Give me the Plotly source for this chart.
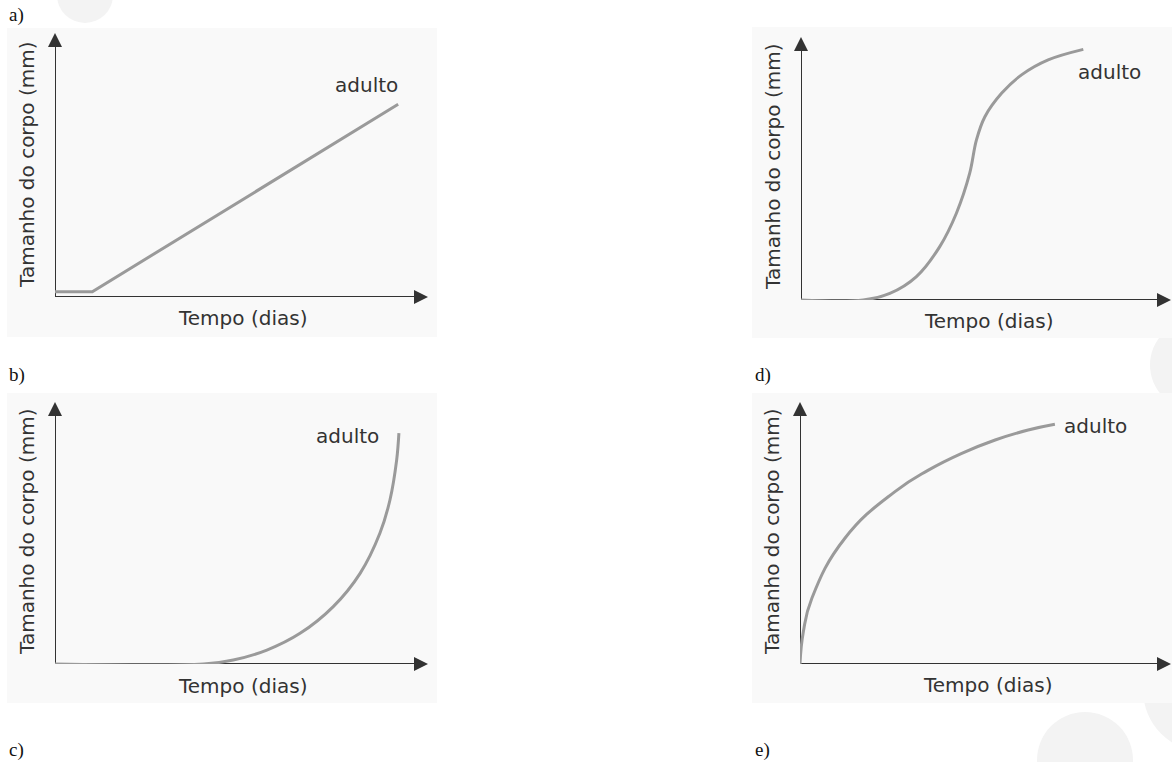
import plotly.graph_objects as go

W, H = 1172, 762

# curves; x = tempo, y = tamanho, both as % of axis length
a_x = [0, 10, 92]
a_y = [2, 2, 73]
b_x = [0, 16.8, 24.0, 31.2, 37.5, 42.0, 45.6, 47.4, 49.7, 54.2, 59.6, 66.8, 76.3]
b_y = [0, 0, 2.5, 8.9, 20.3, 33.0, 48.2, 60.8, 69.7, 78.6, 85.6, 91.3, 95.3]
c_x = [0, 39.8, 47.8, 56.8, 65.7, 74.6, 81.8, 87.1, 89.8, 91.6, 92.2]
c_y = [0, 0, 1.5, 5.3, 11.7, 21.9, 34.6, 49.9, 62.6, 77.9, 88.1]
d_x = [0, 0.9, 3.2, 12.1, 25.6, 34.6, 43.6, 52.6, 61.5, 68.7]
d_y = [0, 12.3, 25.1, 48.0, 65.8, 74.0, 80.4, 85.5, 89.3, 91.5]

end_label = "adulto"
x_title = "Tempo (dias)"
y_title = "Tamanho do corpo (mm)"
panel_letters = ["a)", "b)", "c)", "d)", "e)"]

SANS = "DejaVu Sans"
SERIF = "Liberation Serif"
TXT = "#333333"
CURVE = "#9a9a9a"
BG = "#f9f9f9"


def px(x):
    return x / W


def py(y):
    return 1 - y / H


# layout of each graph in pixels: y-axis x, arrow tip x, arrow top y, x-axis y,
# background box, label spot, title spots
panels = [
    dict(x=a_x, y=a_y, ax0=55, ax1=428, top=33, bot=297, bg=(7, 28, 437, 337),
         lab=(83.5, 80.3), xt=(242, 318), yt=(27, 165), shape="linear", smooth=1.0),
    dict(x=b_x, y=b_y, ax0=801, ax1=1171, top=37, bot=300, bg=(752, 27, 1172, 338),
         lab=(83.4, 86.7), xt=(988, 321), yt=(773, 167), shape="spline", smooth=1.0),
    dict(x=c_x, y=c_y, ax0=55, ax1=428, top=402, bot=664, bg=(7, 393, 437, 703),
         lab=(78.3, 87.0), xt=(242, 686), yt=(27, 532), shape="spline", smooth=1.0),
    dict(x=d_x, y=d_y, ax0=800, ax1=1171, top=402, bot=664, bg=(752, 393, 1172, 703),
         lab=(79.7, 90.8), xt=(987, 685), yt=(772, 532), shape="spline", smooth=1.3),
]

fig = go.Figure()
shapes = []
annotations = []

# faint watermark circles behind everything
for cx, cy, r in [(85, -5, 28), (1195, 365, 45), (1085, 760, 48), (1205, 690, 62)]:
    shapes.append(dict(type="circle", xref="paper", yref="paper",
                       x0=px(cx - r), x1=px(cx + r), y0=py(cy + r), y1=py(cy - r),
                       fillcolor="#f3f3f3", line=dict(width=0), layer="below"))

for i, p in enumerate(panels):
    n = "" if i == 0 else str(i + 1)
    xa, ya = "x" + n, "y" + n
    fig.add_trace(go.Scatter(x=p["x"], y=p["y"], mode="lines",
                             line=dict(color=CURVE, width=3, shape=p["shape"], smoothing=p["smooth"]),
                             xaxis=xa, yaxis=ya, showlegend=False, hoverinfo="skip"))
    fig.update_layout({
        "xaxis" + n: dict(domain=[px(p["ax0"]), px(p["ax1"])], range=[0, 100],
                          visible=False, fixedrange=True, anchor=ya),
        "yaxis" + n: dict(domain=[py(p["bot"]), py(p["top"])], range=[0, 100],
                          visible=False, fixedrange=True, anchor=xa),
    })
    x0, y0, x1, y1 = p["bg"]
    shapes.append(dict(type="rect", xref="paper", yref="paper",
                       x0=px(x0), x1=px(x1), y0=py(y1), y1=py(y0),
                       fillcolor=BG, line=dict(width=0), layer="below"))
    # axis shafts (under the curve)
    shapes.append(dict(type="line", xref=xa, yref=ya, x0=0, y0=0, x1=98, y1=0,
                       line=dict(color=TXT, width=2), layer="below"))
    shapes.append(dict(type="line", xref=xa, yref=ya, x0=0, y0=0, x1=0, y1=97,
                       line=dict(color=TXT, width=2), layer="below"))
    # arrow heads
    annotations.append(dict(xref=xa, yref=ya, x=100, y=0, ax=-12, ay=0, text="",
                            showarrow=True, arrowhead=2, arrowsize=1.4, arrowwidth=2,
                            arrowcolor=TXT))
    annotations.append(dict(xref=xa, yref=ya, x=0, y=100, ax=0, ay=12, text="",
                            showarrow=True, arrowhead=2, arrowsize=1.4, arrowwidth=2,
                            arrowcolor=TXT))
    annotations.append(dict(xref=xa, yref=ya, x=p["lab"][0], y=p["lab"][1], text=end_label,
                            xanchor="center", yanchor="middle", showarrow=False,
                            font=dict(family=SANS, size=20, color=TXT)))
    annotations.append(dict(xref="paper", yref="paper", x=px(p["xt"][0]), y=py(p["xt"][1]),
                            text=x_title, xanchor="center", yanchor="middle", showarrow=False,
                            font=dict(family=SANS, size=20, color=TXT)))
    annotations.append(dict(xref="paper", yref="paper", x=px(p["yt"][0]), y=py(p["yt"][1]),
                            text=y_title, textangle=-90, xanchor="center", yanchor="middle",
                            showarrow=False, font=dict(family=SANS, size=20, color=TXT)))

for letter, (lx, ly) in zip(panel_letters, [(7, 15), (7, 375), (7, 750), (753, 375), (753, 750)]):
    annotations.append(dict(xref="paper", yref="paper", x=px(lx), y=py(ly), text=letter,
                            xanchor="left", yanchor="middle", showarrow=False,
                            font=dict(family=SERIF, size=19, color="#111111")))

fig.update_layout(width=W, height=H, margin=dict(l=0, r=0, t=0, b=0),
                  paper_bgcolor="white", plot_bgcolor="rgba(0,0,0,0)",
                  shapes=shapes, annotations=annotations, showlegend=False)

fig.write_html("out.html", config={"displayModeBar": False},
               post_script="document.body.style.margin='0';")
